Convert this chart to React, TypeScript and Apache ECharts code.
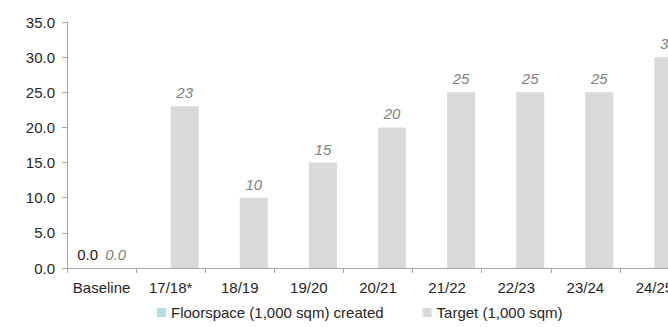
import React, { useEffect, useRef } from "react";
import * as echarts from "echarts";

const categories = ["Baseline", "17/18*", "18/19", "19/20", "20/21", "21/22", "22/23", "23/24", "24/25"];
const floorspaceCreated: (number | null)[] = [0, null, null, null, null, null, null, null, null];
const target: number[] = [0, 23, 10, 15, 20, 25, 25, 25, 30];
const yTicks = { min: 0, max: 35, interval: 5 };

const FONT = "'Liberation Sans', Arial, sans-serif";
const FS = 15;

export default function App() {
  const ref = useRef<HTMLDivElement>(null);

  useEffect(() => {
    if (!ref.current) return;
    const chart = echarts.init(ref.current, undefined, { renderer: "svg" });
    chart.setOption({
      animation: false,
      textStyle: { fontFamily: FONT },
      grid: { left: 67, right: 1, top: 22, bottom: 59 },
      legend: {
        left: 152,
        top: 300,
        itemWidth: 9,
        itemHeight: 9,
        itemGap: 39,
        icon: "rect",
        textStyle: { fontSize: FS, color: "#262626", fontFamily: FONT },
        data: ["Floorspace (1,000 sqm) created", "Target (1,000 sqm)"],
      },
      xAxis: {
        type: "category",
        data: categories,
        axisLine: { lineStyle: { color: "#a6a6a6" } },
        axisTick: { show: true, length: 5, lineStyle: { color: "#a6a6a6" } },
        axisLabel: { fontSize: FS, color: "#262626", margin: 12, interval: 0 },
      },
      yAxis: {
        type: "value",
        min: yTicks.min,
        max: yTicks.max,
        interval: yTicks.interval,
        axisLine: { show: true, lineStyle: { color: "#a6a6a6" } },
        axisTick: { show: true, length: 5, lineStyle: { color: "#a6a6a6" } },
        splitLine: { show: false },
        axisLabel: {
          fontSize: FS,
          color: "#262626",
          margin: 12,
          formatter: (v: number) => v.toFixed(1),
        },
      },
      series: [
        {
          name: "Floorspace (1,000 sqm) created",
          type: "bar",
          data: floorspaceCreated,
          barGap: "0%",
          barCategoryGap: "19%",
          itemStyle: { color: "#b4dde8" },
          label: {
            show: true,
            position: "top",
            distance: 6,
            fontSize: FS,
            color: "#1a1a1a",
            formatter: (p: any) => (p.value == null ? "" : Number(p.value).toFixed(1)),
          },
        },
        {
          name: "Target (1,000 sqm)",
          type: "bar",
          data: target,
          barGap: "0%",
          barCategoryGap: "19%",
          itemStyle: { color: "#d9d9d9" },
          label: {
            show: true,
            position: "top",
            distance: 6,
            fontSize: FS,
            fontStyle: "italic",
            color: "#808080",
            formatter: (p: any) => (p.value === 0 ? "0.0" : String(p.value)),
          },
        },
      ],
    });
    return () => chart.dispose();
  }, []);

  return (
    <div
      style={{
        position: "fixed",
        left: 0,
        top: 0,
        width: 668,
        height: 327,
        overflow: "hidden",
        background: "#fff",
      }}
    >
      <div ref={ref} style={{ width: 690, height: 327 }} />
    </div>
  );
}
